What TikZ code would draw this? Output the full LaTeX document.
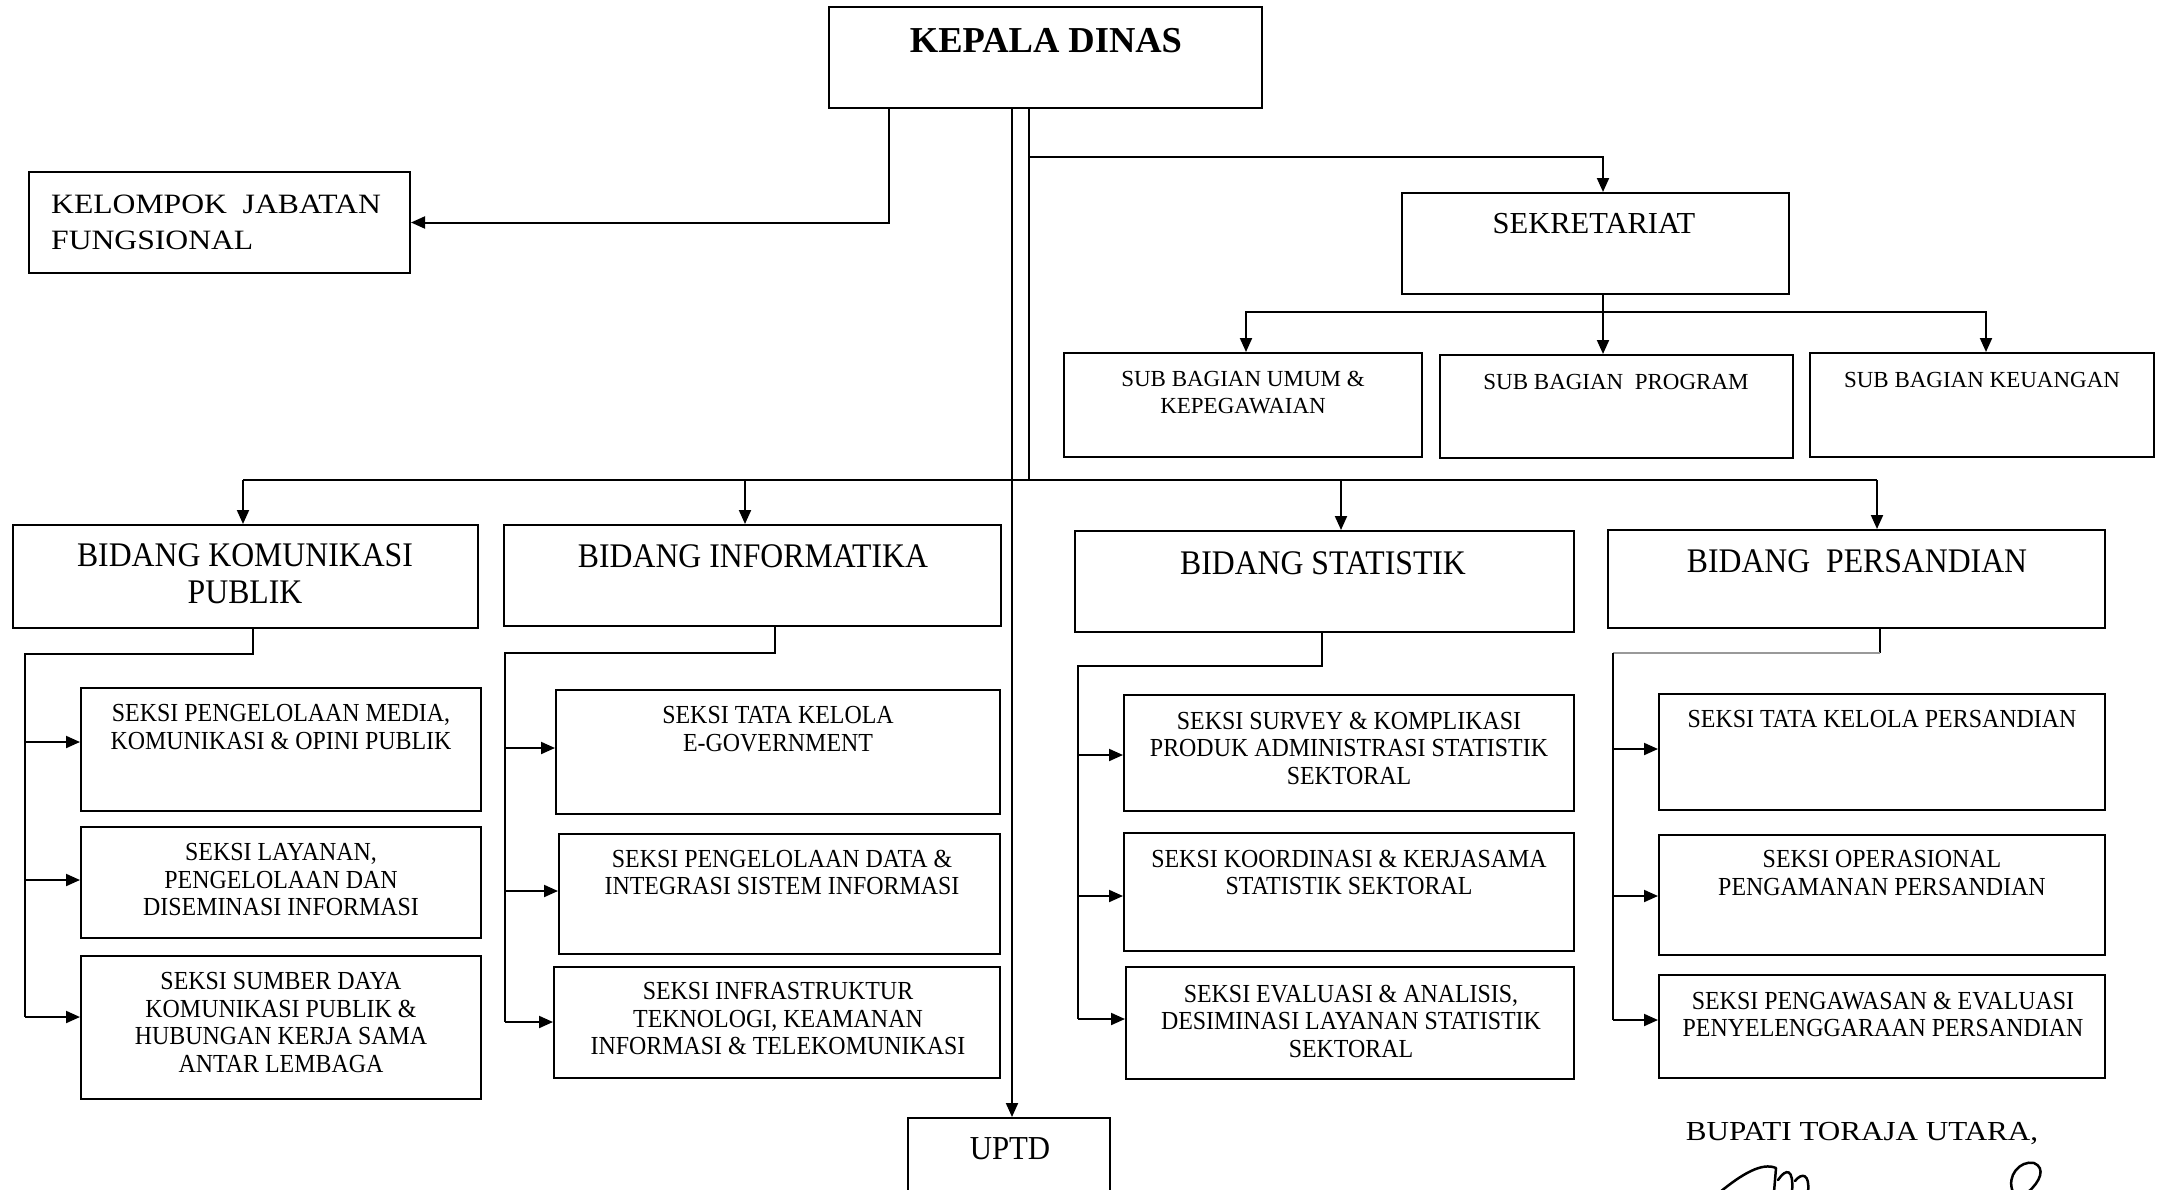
\documentclass[tikz,border=0pt]{standalone}
\usepackage{fontspec}
\setmainfont{Liberation Serif}
\newfontfamily\narrowserif{Liberation Serif}[FakeStretch=0.92]
\newfontfamily\wideserif{Liberation Serif}[FakeStretch=1.13]
\usetikzlibrary{arrows.meta}
\def\fs#1#2{\fontsize{#1}{#2}\selectfont}

\begin{document}
\begin{tikzpicture}[x=1pt,y=-1pt,
	box/.style={draw, line width=2pt, inner sep=0pt},
	txt/.style={anchor=north, inner sep=0pt, align=center},
	ln/.style={line width=2pt},
	arr/.style={line width=2pt, -{Triangle[length=14pt,width=12pt]}},
	seksi/.style={txt, font=\narrowserif\fs{26}{27.5}},
	bidang/.style={txt, font=\narrowserif\fs{34.5}{37}},
	subbag/.style={txt, font=\fs{23}{27}}]
	\useasboundingbox (0,0) rectangle (2157,1189);
	\clip (0,0) rectangle (2157,1189);
	
	% boxes
	\node[box, minimum width=433, minimum height=101] (kepala) at (1045.5,57.5) {};
	\node[box, minimum width=381, minimum height=101] (kelompok) at (219.5,222.5) {};
	\node[box, minimum width=387, minimum height=101] (sekre) at (1595.5,243.5) {};
	\node[box, minimum width=358, minimum height=104] (umum) at (1243,405) {};
	\node[box, minimum width=353, minimum height=103] (program) at (1616.5,406.5) {};
	\node[box, minimum width=344, minimum height=104] (keuangan) at (1982,405) {};
	
	\node[box, minimum width=465, minimum height=103] (bidkom) at (245.5,576.5) {};
	\node[box, minimum width=497, minimum height=101] (bidinfo) at (752.5,575.5) {};
	\node[box, minimum width=499, minimum height=101] (bidstat) at (1324.5,581.5) {};
	\node[box, minimum width=497, minimum height=98] (bidpers) at (1856.5,579) {};
	
	\node[box, minimum width=400, minimum height=123] (kom1) at (281,749.5) {};
	\node[box, minimum width=400, minimum height=111] (kom2) at (281,882.5) {};
	\node[box, minimum width=400, minimum height=143] (kom3) at (281,1027.5) {};
	\node[box, minimum width=444, minimum height=124] (inf1) at (778,752) {};
	\node[box, minimum width=441, minimum height=120] (inf2) at (779.5,894) {};
	\node[box, minimum width=446, minimum height=111] (inf3) at (777,1022.5) {};
	\node[box, minimum width=450, minimum height=116] (sta1) at (1349,753) {};
	\node[box, minimum width=450, minimum height=118] (sta2) at (1349,892) {};
	\node[box, minimum width=448, minimum height=112] (sta3) at (1350,1023) {};
	\node[box, minimum width=446, minimum height=116] (per1) at (1882,752) {};
	\node[box, minimum width=446, minimum height=120] (per2) at (1882,895) {};
	\node[box, minimum width=446, minimum height=103] (per3) at (1882,1026.5) {};
	
	\node[box, minimum width=202, minimum height=142] (uptd) at (1009,1189) {};
	
	% texts
	\node[txt, font=\bfseries\fs{36.5}{40}] (kepalaT) at (1046,28) {KEPALA DINAS};
	\node[txt, anchor=north west, align=left, font=\wideserif\fs{28}{36}] (kelompokT) at (51,195) {KELOMPOK\ \ JABATAN\\FUNGSIONAL};
	\node[txt, font=\fs{30.5}{34}] (sekreT) at (1594,213) {SEKRETARIAT};
	\node[subbag] (umumT) at (1243,370.5) {SUB BAGIAN UMUM \&\\KEPEGAWAIAN};
	\node[subbag] (programT) at (1616,374.5) {SUB BAGIAN\ \ PROGRAM};
	\node[subbag] (keuanganT) at (1982,372.5) {SUB BAGIAN KEUANGAN};
	
	\node[bidang] (bidkomT) at (245,543.7) {BIDANG KOMUNIKASI\\PUBLIK};
	\node[bidang] (bidinfoT) at (753,544.7) {BIDANG INFORMATIKA};
	\node[bidang] (bidstatT) at (1323,551) {BIDANG STATISTIK};
	\node[bidang] (bidpersT) at (1857,549) {BIDANG\ \ PERSANDIAN};
	
	\node[seksi] (kom1T) at (281,704.5) {SEKSI PENGELOLAAN MEDIA,\\KOMUNIKASI \& OPINI PUBLIK};
	\node[seksi] (kom2T) at (281,843.5) {SEKSI LAYANAN,\\PENGELOLAAN DAN\\DISEMINASI INFORMASI};
	\node[seksi] (kom3T) at (281,972.5) {SEKSI SUMBER DAYA\\KOMUNIKASI PUBLIK \&\\HUBUNGAN KERJA SAMA\\ANTAR LEMBAGA};
	\node[seksi] (inf1T) at (778,706.5) {SEKSI TATA KELOLA\\E-GOVERNMENT};
	\node[seksi] (inf2T) at (782,849.5) {SEKSI PENGELOLAAN DATA \&\\INTEGRASI SISTEM INFORMASI};
	\node[seksi] (inf3T) at (778,982.5) {SEKSI INFRASTRUKTUR\\TEKNOLOGI, KEAMANAN\\INFORMASI \& TELEKOMUNIKASI};
	\node[seksi] (sta1T) at (1349,711.5) {SEKSI SURVEY \& KOMPLIKASI\\PRODUK ADMINISTRASI STATISTIK\\SEKTORAL};
	\node[seksi] (sta2T) at (1349,849.5) {SEKSI KOORDINASI \& KERJASAMA\\STATISTIK SEKTORAL};
	\node[seksi] (sta3T) at (1351,984.5) {SEKSI EVALUASI \& ANALISIS,\\DESIMINASI LAYANAN STATISTIK\\SEKTORAL};
	\node[seksi] (per1T) at (1882,710.5) {SEKSI TATA KELOLA PERSANDIAN};
	\node[seksi] (per2T) at (1882,850.5) {SEKSI OPERASIONAL\\PENGAMANAN PERSANDIAN};
	\node[seksi] (per3T) at (1883,991.5) {SEKSI PENGAWASAN \& EVALUASI\\PENYELENGGARAAN PERSANDIAN};
	
	\node[txt, font=\narrowserif\fs{33.5}{36}] (uptdT) at (1010,1137) {UPTD};
	\node[txt, font=\wideserif\fs{27.5}{30}] (bupati) at (1862,1122) {BUPATI TORAJA UTARA,};
	
	% lines from kepala dinas
	\coordinate (trunkL) at (1012,0 |- kepala.south);
	\coordinate (trunkR) at (1029,0 |- kepala.south);
	\coordinate (bus) at (1029,480);
	\draw[arr] (889,0 |- kepala.south) |- (kelompok.east);
	\draw[ln] (trunkR) -- (bus);
	\draw[ln] (243,480) -- (1877,480);
	\draw[arr] (trunkL) -- (1012,0 |- uptd.north);
	\draw[arr] (1029,157) -| (1603,0 |- sekre.north);
	\foreach \x/\b in {243/bidkom,745/bidinfo,1341/bidstat,1877/bidpers}
		\draw[arr] (\x,480) -- (\x,0 |- \b.north);
	
	% sekretariat
	\draw[arr] (1603,0 |- sekre.south) -- (1603,0 |- program.north);
	\draw[arr] (1603,312) -| (1246,0 |- umum.north);
	\draw[arr] (1603,312) -| (1986,0 |- keuangan.north);
	
	% bidang to seksi
	\draw[ln] (253,0 |- bidkom.south) |- (25,654) -- (25,1017);
	\foreach \y/\s in {742/kom1,880/kom2,1017/kom3}
		\draw[arr] (25,\y) -- (\s.west |- 0,\y);
	\draw[ln] (775,0 |- bidinfo.south) |- (505,653) -- (505,1022);
	\foreach \y/\s in {748/inf1,891/inf2,1022/inf3}
		\draw[arr] (505,\y) -- (\s.west |- 0,\y);
	\draw[ln] (1322,0 |- bidstat.south) |- (1078,666) -- (1078,1019);
	\foreach \y/\s in {755/sta1,896/sta2,1019/sta3}
		\draw[arr] (1078,\y) -- (\s.west |- 0,\y);
	\draw[ln] (1880,0 |- bidpers.south) -- (1880,653);
	\draw[ln, black!40, line width=1.5pt] (1880,653) -- (1613,653);
	\draw[ln] (1613,653) -- (1613,1020);
	\foreach \y/\s in {749/per1,896/per2,1020/per3}
		\draw[arr] (1613,\y) -- (\s.west |- 0,\y);
	
	% signature
	\draw[line width=2.5pt, line cap=round, line join=round] (1720,1192) .. controls (1742,1174) and (1762,1162) .. (1776,1168) -- (1774,1192);
	\draw[line width=2.5pt, line cap=round] (1778,1180) .. controls (1786,1168) and (1794,1168) .. (1792,1192);
	\draw[line width=2.5pt, line cap=round] (1795,1181) .. controls (1802,1172) and (1810,1174) .. (1808,1192);
	\draw[line width=2.5pt, line cap=round] (2013,1192) .. controls (2006,1176) and (2020,1160) .. (2034,1163) .. controls (2046,1168) and (2040,1182) .. (2028,1192);
\end{tikzpicture}
\end{document}
